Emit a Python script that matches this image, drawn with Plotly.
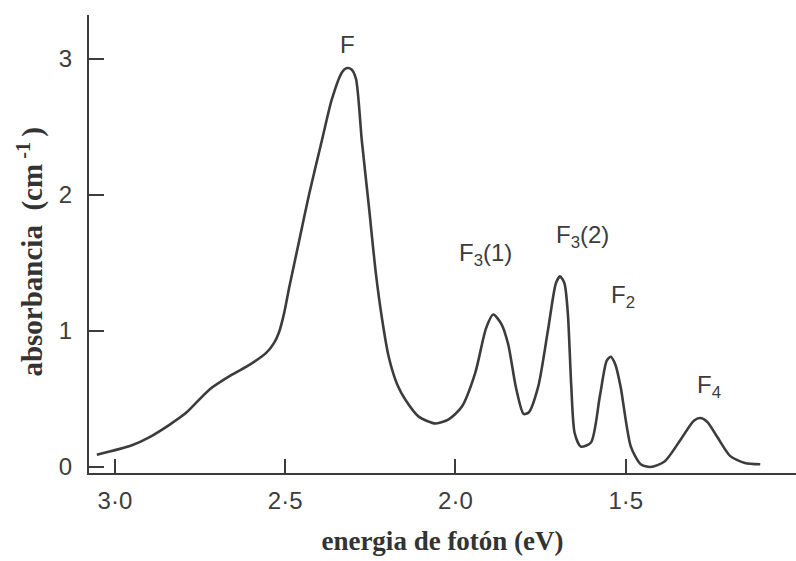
import plotly.graph_objects as go

# Absorption spectrum: photon energy (eV) vs absorbance (cm^-1)
energy = [3.053, 2.95, 2.898, 2.84, 2.79, 2.722, 2.655, 2.605, 2.555, 2.533,
          2.518, 2.503, 2.488, 2.459, 2.43, 2.392, 2.363, 2.333, 2.319, 2.305,
          2.292, 2.275, 2.254, 2.234, 2.215, 2.196, 2.17, 2.146, 2.108, 2.058,
          2.02, 1.982, 1.942, 1.91, 1.889, 1.865, 1.845, 1.822, 1.80, 1.785,
          1.757, 1.728, 1.705, 1.693, 1.68, 1.670, 1.660, 1.650, 1.632, 1.602,
          1.576, 1.556, 1.544, 1.530, 1.515, 1.485, 1.456, 1.427, 1.386, 1.339,
          1.30, 1.281, 1.26, 1.231, 1.193, 1.15, 1.105]
absorbance = [0.09, 0.16, 0.22, 0.31, 0.40, 0.57, 0.68, 0.75, 0.84, 0.91,
              0.99, 1.13, 1.32, 1.66, 2.00, 2.40, 2.70, 2.90, 2.93, 2.92,
              2.85, 2.40, 1.91, 1.43, 1.08, 0.81, 0.60, 0.49, 0.37, 0.32,
              0.35, 0.44, 0.69, 1.02, 1.12, 1.05, 0.90, 0.58, 0.39, 0.40,
              0.59, 1.01, 1.35, 1.40, 1.35, 1.13, 0.60, 0.25, 0.15, 0.18,
              0.52, 0.78, 0.81, 0.75, 0.59, 0.15, 0.02, 0.00, 0.04, 0.20,
              0.34, 0.36, 0.33, 0.22, 0.08, 0.03, 0.02]

# Band labels
band_names = ["F", "F<sub>3</sub>(1)", "F<sub>3</sub>(2)", "F<sub>2</sub>", "F<sub>4</sub>"]
band_x = [2.318, 1.912, 1.628, 1.508, 1.255]
band_y = [3.10, 1.56, 1.69, 1.25, 0.59]

x_tick_vals = [3.0, 2.5, 2.0, 1.5]
x_tick_text = ["3·0", "2·5", "2·0", "1·5"]
y_tick_vals = [0, 1, 2, 3]
y_tick_text = ["0", "1", "2", "3"]

ink = "#3c3c3c"
sans = "Liberation Sans, Arial"
serif = "Liberation Serif, Times New Roman"

fig = go.Figure()
fig.add_trace(go.Scatter(
    x=energy, y=absorbance, mode="lines",
    line=dict(color=ink, width=2.6, shape="spline", smoothing=0.7),
    hoverinfo="skip", showlegend=False,
))

for name, bx, by in zip(band_names, band_x, band_y):
    fig.add_annotation(x=bx, y=by, text=name, showarrow=False,
                       font=dict(family=sans, size=24, color=ink))

# Vertical axis title, set slightly below the plot-area centre
fig.add_annotation(
    xref="paper", yref="paper", x=-0.083, y=0.482,
    xanchor="center", yanchor="middle", textangle=-90, showarrow=False,
    text="<b>absorbancia&nbsp; (cm<sup>&nbsp;-1&nbsp;</sup>)</b>",
    font=dict(family=serif, size=29, color="#333333"),
)

fig.update_layout(
    width=796, height=561,
    margin=dict(l=89, r=0, t=15, b=88),
    paper_bgcolor="white", plot_bgcolor="white",
    xaxis=dict(
        range=[3.076, 1.0], tickvals=x_tick_vals, ticktext=x_tick_text,
        ticks="inside", ticklen=14, tickwidth=2, tickcolor=ink,
        showline=True, linecolor=ink, linewidth=2, showgrid=False, zeroline=False,
        ticklabelstandoff=5,
        tickfont=dict(family=sans, size=24, color=ink),
        title=dict(text="<b>energia de fotón (eV)</b>", standoff=18,
                   font=dict(family=serif, size=27, color="#333333")),
    ),
    yaxis=dict(
        range=[-0.044, 3.32], tickvals=y_tick_vals, ticktext=y_tick_text,
        ticks="inside", ticklen=15, tickwidth=2, tickcolor=ink,
        showline=True, linecolor=ink, linewidth=2, showgrid=False, zeroline=False,
        ticklabelstandoff=10,
        tickfont=dict(family=sans, size=24, color=ink),
    ),
)

fig.write_html("out.html")
